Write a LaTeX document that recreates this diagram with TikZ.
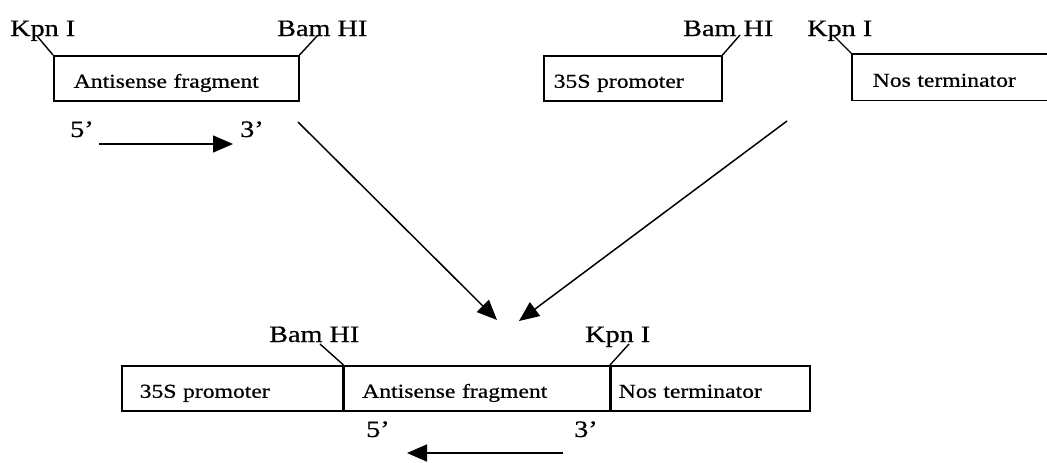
\documentclass[tikz,border=0pt]{standalone}
\usepackage{fontspec}
\setmainfont{Liberation Serif}[FakeStretch=1.2,FakeBold=0.6]
\usetikzlibrary{arrows.meta}
\begin{document}
\begin{tikzpicture}[x=1pt,y=-1pt,
  lab/.style={font=\fontsize{23.5}{26}\selectfont, inner sep=0pt, anchor=base west},
  frag/.style={draw, line width=1.5pt, font=\fontsize{19.7}{22}\selectfont, anchor=north west,
     minimum height=45pt, inner ysep=0pt, text height=19pt, text depth=0pt, align=left},
  tick/.style={line width=1.4pt},
  arr/.style={line width=1.5pt, -{Triangle[length=20pt,width=17pt]}}]
\useasboundingbox (0,0) rectangle (1047,463);
% top-left fragment
\node[frag, text width=205pt, inner xsep=20pt] (af) at (53,55) {Antisense fragment};
\node[lab] (kA) at (10,36) {Kpn I};
\node[lab] (bA) at (277,36) {Bam HI};
\coordinate (tkA) at (37,36);
\coordinate (tbA) at (318,35);
\draw[tick] (af.north west) -- (tkA);
\draw[tick] (af.north east) -- (tbA);
\node[lab] (f5a) at (70,137) {5’};
\node[lab] (f3a) at (240,137) {3’};
\coordinate (a1s) at (99,144);
\coordinate (a1e) at (233,144);
\draw[arr] (a1s) -- (a1e);
% top-right fragments
\node[frag, text width=158pt, inner xsep=10pt] (pA) at (543,55) {35S promoter};
\node[frag, draw=none, text width=155pt, inner xsep=20pt] (nA) at (852,54) {Nos terminator};
\draw[line width=1.5pt] (nA.north east) -- (nA.north west) -- (nA.south west) -- (nA.south east);
\node[lab] (bB) at (683,36) {Bam HI};
\node[lab] (kB) at (807,36) {Kpn I};
\coordinate (tbB) at (740,35);
\coordinate (tkB) at (833,35);
\draw[tick] (pA.north east) -- (tbB);
\draw[tick] (nA.north west) -- (tkB);
% converging arrows
\coordinate (d1s) at (298,122);
\coordinate (d1e) at (497,320);
\coordinate (d2s) at (787,121);
\coordinate (d2e) at (519,321);
\draw[arr] (d1s) -- (d1e);
\draw[arr] (d2s) -- (d2e);
% bottom construct
\node[frag, text width=185pt, inner xsep=18pt] (pC) at (121,365) {35S promoter};
\node[frag, text width=229pt, inner xsep=18pt] (aC) at (pC.north east) {Antisense fragment};
\node[frag, text width=183pt, inner xsep=8pt] (nC) at (aC.north east) {Nos terminator};
\node[lab] (bC) at (269,342) {Bam HI};
\node[lab] (kC) at (585,342) {Kpn I};
\coordinate (tbC) at (320,344);
\coordinate (tkC) at (629,344);
\draw[tick] (aC.north west) -- (tbC);
\draw[tick] (nC.north west) -- (tkC);
\node[lab] (f5c) at (366,437) {5’};
\node[lab] (f3c) at (574,437) {3’};
\coordinate (a2s) at (563,453);
\coordinate (a2e) at (407,453);
\draw[arr] (a2s) -- (a2e);
\end{tikzpicture}
\end{document}
